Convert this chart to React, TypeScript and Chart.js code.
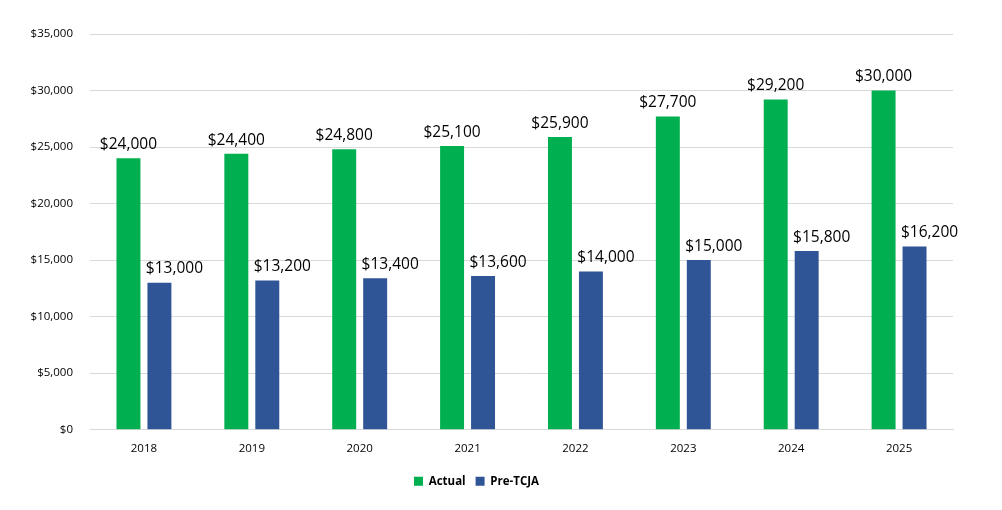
import React, { useEffect, useRef } from "react";
import { Chart, registerables } from "chart.js";

Chart.register(...registerables);

const categories = ["2018", "2019", "2020", "2021", "2022", "2023", "2024", "2025"];
const actual = [24000, 24400, 24800, 25100, 25900, 27700, 29200, 30000];
const preTCJA = [13000, 13200, 13400, 13600, 14000, 15000, 15800, 16200];
const seriesNames = ["Actual", "Pre-TCJA"];
const FONT = "'Open Sans', 'Noto Sans', sans-serif";

const fmt = (v: number) => "$" + v.toLocaleString("en-US");

const labelPlugin = {
  id: "barLabels",
  afterDatasetsDraw(chart: any) {
    const ctx = chart.ctx;
    ctx.save();
    ctx.font = `15.5px ${FONT}`;
    ctx.fillStyle = "#000";
    ctx.textAlign = "center";
    ctx.textBaseline = "bottom";
    chart.data.datasets.forEach((ds: any, di: number) => {
      const meta = chart.getDatasetMeta(di);
      meta.data.forEach((bar: any, i: number) => {
        const shift = di === 1 ? 15 : 0;
        ctx.fillText(fmt(ds.data[i]), bar.x + shift, bar.y - 6);
      });
    });
    ctx.restore();
  },
};

export default function App() {
  const ref = useRef<HTMLCanvasElement>(null);
  useEffect(() => {
    const chart = new Chart(ref.current!, {
      type: "bar",
      data: {
        labels: categories,
        datasets: [
          { label: seriesNames[0], data: actual, backgroundColor: "#00B050", barPercentage: 0.774, categoryPercentage: 0.574 },
          { label: seriesNames[1], data: preTCJA, backgroundColor: "#2F5597", barPercentage: 0.774, categoryPercentage: 0.574 },
        ],
      },
      options: {
        animation: false,
        responsive: false,
        layout: { padding: { top: 34, right: 49, bottom: 13, left: 0 } },
        plugins: {
          tooltip: { enabled: false },
          legend: {
            position: "bottom",
            labels: {
              font: { family: FONT, size: 11.5, weight: "bold" },
              color: "#000",
              boxWidth: 9,
              boxHeight: 9,
              padding: 10,
            },
          },
        },
        scales: {
          x: {
            afterFit: (s: any) => { s.height += 6; },
            grid: { display: false },
            border: { color: "#d9d9d9" },
            ticks: { font: { family: FONT, size: 11.5 }, color: "#000", padding: 4 },
          },
          y: {
            min: 0,
            max: 35000,
            afterFit: (s: any) => { s.width = 90; },
            ticks: {
              stepSize: 5000,
              padding: 17,
              font: { family: FONT, size: 11.5 },
              color: "#000",
              callback: (v: any) => fmt(Number(v)),
            },
            grid: { color: "#d9d9d9", drawTicks: false },
            border: { display: false },
          },
        },
      },
      plugins: [labelPlugin],
    });
    return () => chart.destroy();
  }, []);
  return (
    <div style={{ position: "fixed", left: 0, top: 0, width: 1002, height: 510, background: "#fff" }}>
      <canvas ref={ref} width={1002} height={510} style={{ width: 1002, height: 510 }} />
    </div>
  );
}
